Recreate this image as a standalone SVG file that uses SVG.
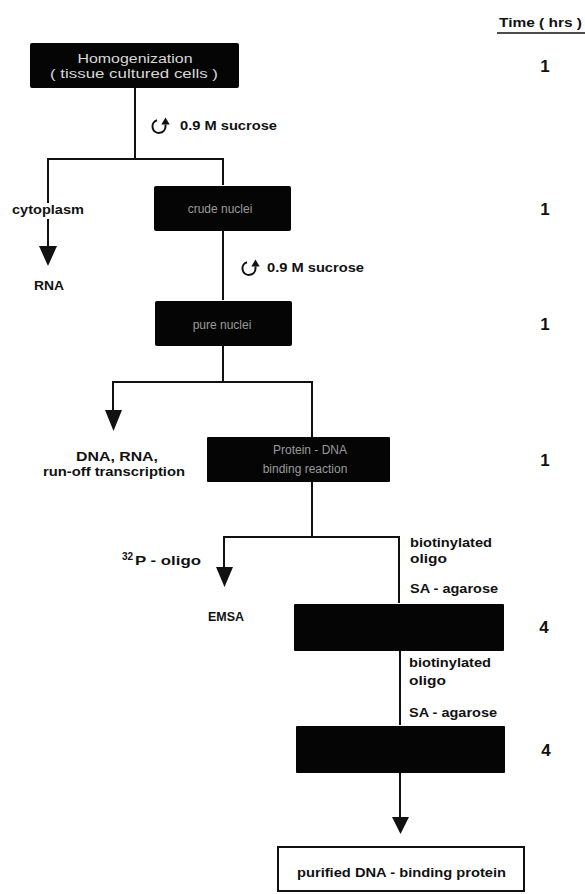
<svg xmlns="http://www.w3.org/2000/svg" width="585" height="894" viewBox="0 0 585 894">
<style>
.lbl{font-family:"Liberation Sans",Arial,sans-serif;font-weight:bold;font-size:13px;fill:#111}
.sup{font-family:"Liberation Sans",Arial,sans-serif;font-weight:bold;font-size:10px;fill:#111}
.hrs{font-family:"Liberation Sans",Arial,sans-serif;font-weight:bold;font-size:17px;fill:#111;text-anchor:middle}
.box{fill:#050505}
.btxt{font-family:"Liberation Sans",Arial,sans-serif;font-size:12px;fill:#9a9a9a;text-anchor:middle}
.ln{stroke:#111;stroke-width:2;fill:none}
.ah{fill:#111}
</style>
<defs>
<g id="swirl">
<path d="M -2 -6.3 A 6.5 6.5 0 1 0 6.5 0 L 6.5 -2" fill="none" stroke="#111" stroke-width="2"/>
<polygon points="2.3,-2 10.7,-2 6.5,-9" fill="#111"/>
</g>
</defs>

<g id="header">
<text class="lbl" x="499" y="27" textLength="83" lengthAdjust="spacingAndGlyphs">Time ( hrs )</text>
<line x1="497" y1="33" x2="585" y2="33" stroke="#111" stroke-width="1.5"/>
</g>

<g id="connectors">
<line class="ln" x1="135" y1="88" x2="135" y2="159"/>
<polyline class="ln" points="48,203 48,159 223,159 223,185"/>
<line class="ln" x1="48" y1="219" x2="48" y2="248"/>
<polygon class="ah" points="39,246 57,246 48,266"/>
<line class="ln" x1="223" y1="231" x2="223" y2="300"/>
<line class="ln" x1="223" y1="346" x2="223" y2="382"/>
<polyline class="ln" points="113,412 113,382 312,382 312,437"/>
<polygon class="ah" points="105,410 122,410 113.5,431"/>
<line class="ln" x1="312" y1="482" x2="312" y2="537"/>
<polyline class="ln" points="224,569 224,537 399,537 399,603"/>
<polygon class="ah" points="216,567 233,567 224.5,587"/>
<line class="ln" x1="400" y1="651" x2="400" y2="725"/>
<line class="ln" x1="400" y1="773" x2="400" y2="819"/>
<polygon class="ah" points="392,817 409,817 400.5,834"/>
</g>

<g id="n1">
<rect class="box" x="30" y="43" width="209" height="45" rx="2"/>
<text class="btxt" x="135" y="63" style="fill:#d8d8d8" textLength="115" lengthAdjust="spacingAndGlyphs">Homogenization</text>
<text class="btxt" x="134" y="78" style="fill:#d8d8d8" textLength="168" lengthAdjust="spacingAndGlyphs">( tissue   cultured cells )</text>
<text class="hrs" x="545" y="72">1</text>
</g>

<g id="sucrose1">
<use href="#swirl" x="159" y="126.5"/>
<text class="lbl" x="180" y="130" textLength="97" lengthAdjust="spacingAndGlyphs">0.9 M sucrose</text>
</g>

<g id="cytoplasm">
<text class="lbl" x="12" y="214" textLength="72" lengthAdjust="spacingAndGlyphs">cytoplasm</text>
<text class="lbl" x="34" y="290" textLength="30" lengthAdjust="spacingAndGlyphs">RNA</text>
</g>

<g id="n2">
<rect class="box" x="154" y="186" width="137" height="45" rx="2"/>
<text class="btxt" x="220" y="213">crude nuclei</text>
<text class="hrs" x="545" y="215">1</text>
</g>

<g id="sucrose2">
<use href="#swirl" x="249" y="268.5"/>
<text class="lbl" x="267" y="272" textLength="97" lengthAdjust="spacingAndGlyphs">0.9 M sucrose</text>
</g>

<g id="n3">
<rect class="box" x="155" y="301" width="137" height="45" rx="2"/>
<text class="btxt" x="222" y="329">pure nuclei</text>
<text class="hrs" x="545" y="330">1</text>
</g>

<g id="dnarna">
<text class="lbl" x="76" y="461" textLength="82" lengthAdjust="spacingAndGlyphs">DNA, RNA,</text>
<text class="lbl" x="43" y="476" textLength="142" lengthAdjust="spacingAndGlyphs">run-off transcription</text>
</g>

<g id="n4">
<rect class="box" x="207" y="437" width="183" height="45" rx="1"/>
<text class="btxt" x="310" y="454">Protein - DNA</text>
<text class="btxt" x="305" y="473">binding reaction</text>
<text class="hrs" x="545" y="466">1</text>
</g>

<g id="emsa">
<text class="sup" x="122" y="560">32</text>
<text class="lbl" x="135" y="565" textLength="66" lengthAdjust="spacingAndGlyphs">P - oligo</text>
<text class="lbl" x="208" y="621" textLength="36" lengthAdjust="spacingAndGlyphs">EMSA</text>
</g>

<g id="reagents1">
<text class="lbl" x="410" y="547" textLength="82" lengthAdjust="spacingAndGlyphs">biotinylated</text>
<text class="lbl" x="410" y="563" textLength="37" lengthAdjust="spacingAndGlyphs">oligo</text>
<text class="lbl" x="410" y="593" textLength="88" lengthAdjust="spacingAndGlyphs">SA - agarose</text>
</g>

<g id="n5">
<rect class="box" x="294" y="604" width="210" height="47" rx="1"/>
<text class="hrs" x="544" y="633">4</text>
</g>

<g id="reagents2">
<text class="lbl" x="409" y="667" textLength="82" lengthAdjust="spacingAndGlyphs">biotinylated</text>
<text class="lbl" x="409" y="685" textLength="37" lengthAdjust="spacingAndGlyphs">oligo</text>
<text class="lbl" x="409" y="717" textLength="88" lengthAdjust="spacingAndGlyphs">SA - agarose</text>
</g>

<g id="n6">
<rect class="box" x="296" y="726" width="209" height="47" rx="1"/>
<text class="hrs" x="546" y="756">4</text>
</g>

<g id="n7">
<rect x="278" y="847" width="246" height="44" fill="#fff" stroke="#111" stroke-width="2"/>
<text class="lbl" x="297" y="877" textLength="209" lengthAdjust="spacingAndGlyphs">purified DNA - binding protein</text>
</g>
</svg>
